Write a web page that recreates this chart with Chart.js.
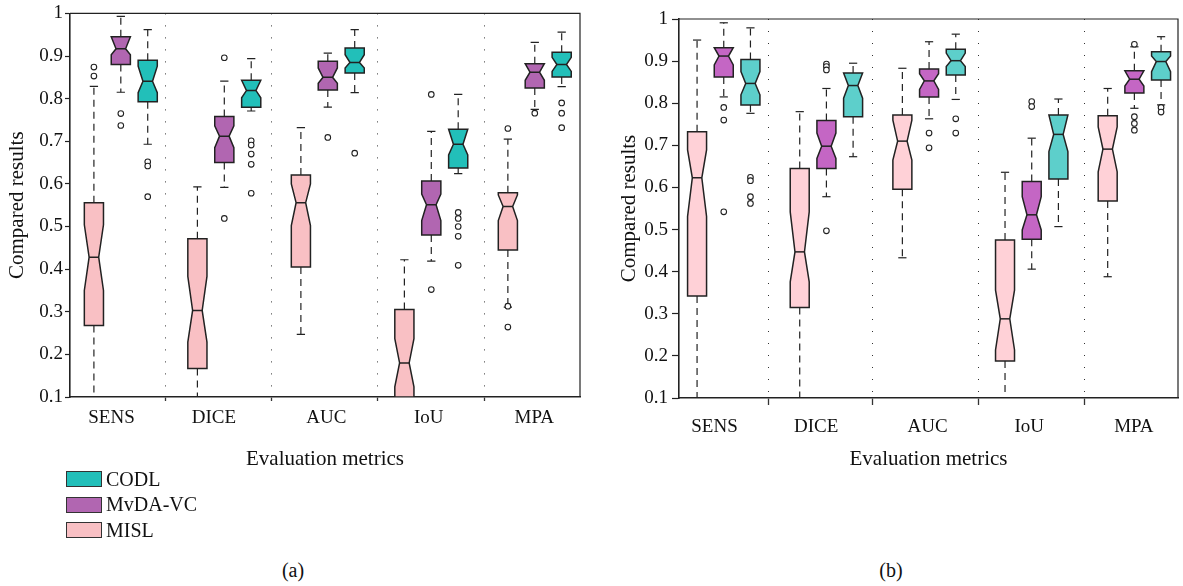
<!DOCTYPE html>
<html>
<head>
<meta charset="utf-8">
<title>Compared results</title>
<script src="https://cdn.jsdelivr.net/npm/chart.js@4.4.1/dist/chart.umd.min.js"></script>
<style>
  html, body { margin: 0; padding: 0; background: #fff; }
  body { width: 1183px; height: 586px; position: relative; overflow: hidden;
         font-family: 'Liberation Serif', 'DejaVu Serif', serif; color: #111; }
  canvas { position: absolute; top: 0; }
  #chartA { left: 0; }
  #chartB { left: 600px; }
  .legend-row { position: absolute; left: 66px; height: 16px; display: flex; align-items: center; font-size: 20px; }
  .swatch { box-sizing: border-box; width: 36px; height: 16px; border: 1.6px solid #333; margin-right: 4px; }
  .caption { position: absolute; top: 557px; width: 60px; text-align: center; font-size: 20px; line-height: 26px; }
</style>
</head>
<body>
<canvas id="chartA" width="600" height="480"></canvas>
<canvas id="chartB" width="583" height="480"></canvas>
<div id="legend"></div>
<div class="caption" style="left:263px">(a)</div>
<div class="caption" style="left:861px">(b)</div>
<script>
const metrics = ['SENS', 'DICE', 'AUC', 'IoU', 'MPA'];
const methods = ['MISL', 'MvDA-VC', 'CODL'];
const yTicks = [0.1, 0.2, 0.3, 0.4, 0.5, 0.6, 0.7, 0.8, 0.9, 1];

// one row per metric: [lower whisker, Q1, notch low, median, notch high, Q3, upper whisker]
// panel (a)
const mislA = [
    [0.100, 0.268, 0.350, 0.428, 0.504, 0.556, 0.829],
    [0.100, 0.167, 0.229, 0.303, 0.383, 0.471, 0.593],
    [0.247, 0.405, 0.502, 0.556, 0.600, 0.621, 0.732],
    [0.100, 0.100, 0.124, 0.180, 0.237, 0.305, 0.422],
    [0.311, 0.445, 0.514, 0.547, 0.574, 0.579, 0.705]
];
const mvdaA = [
    [0.815, 0.880, 0.903, 0.917, 0.945, 0.945, 0.993],
    [0.592, 0.650, 0.685, 0.712, 0.736, 0.758, 0.841],
    [0.780, 0.820, 0.836, 0.850, 0.872, 0.888, 0.907],
    [0.419, 0.480, 0.514, 0.551, 0.576, 0.607, 0.723],
    [0.775, 0.825, 0.843, 0.862, 0.882, 0.882, 0.932]
];
const codlA = [
    [0.693, 0.793, 0.814, 0.841, 0.876, 0.890, 0.962],
    [0.771, 0.780, 0.802, 0.819, 0.843, 0.843, 0.894],
    [0.814, 0.860, 0.872, 0.885, 0.903, 0.919, 0.962],
    [0.624, 0.637, 0.668, 0.693, 0.728, 0.728, 0.810],
    [0.828, 0.851, 0.864, 0.880, 0.897, 0.909, 0.956]
];
const mislAOut = [[0.874, 0.853], [], [], [], [0.730, 0.313, 0.264]];
const mvdaAOut = [[0.765, 0.737], [0.896, 0.519], [0.709], [0.810, 0.352], [0.766]];
const codlAOut = [[0.652, 0.642, 0.570], [0.701, 0.691, 0.670, 0.646, 0.578], [0.672],
                  [0.533, 0.519, 0.500, 0.477, 0.409], [0.790, 0.766, 0.732]];

// panel (b)
const mislB = [
    [0.100, 0.342, 0.531, 0.623, 0.689, 0.732, 0.950],
    [0.100, 0.315, 0.376, 0.447, 0.542, 0.645, 0.780],
    [0.433, 0.596, 0.665, 0.710, 0.760, 0.772, 0.883],
    [0.100, 0.188, 0.214, 0.288, 0.356, 0.475, 0.636],
    [0.388, 0.568, 0.637, 0.691, 0.744, 0.770, 0.835]
];
const mvdaB = [
    [0.815, 0.862, 0.891, 0.912, 0.932, 0.932, 0.991],
    [0.578, 0.645, 0.669, 0.698, 0.729, 0.759, 0.835],
    [0.763, 0.815, 0.833, 0.853, 0.870, 0.881, 0.946],
    [0.406, 0.477, 0.499, 0.535, 0.578, 0.614, 0.717],
    [0.788, 0.824, 0.841, 0.857, 0.877, 0.877, 0.934]
];
const codlB = [
    [0.776, 0.796, 0.820, 0.847, 0.875, 0.904, 0.979],
    [0.673, 0.768, 0.812, 0.842, 0.872, 0.872, 0.895],
    [0.809, 0.867, 0.887, 0.901, 0.919, 0.928, 0.964],
    [0.507, 0.620, 0.685, 0.726, 0.772, 0.772, 0.810],
    [0.796, 0.855, 0.875, 0.899, 0.912, 0.922, 0.958]
];
const mislBOut = [[], [], [], [], []];
const mvdaBOut = [[0.790, 0.760, 0.542], [0.893, 0.887, 0.879, 0.497], [0.729, 0.694], [0.804, 0.792],
                  [0.940, 0.768, 0.752, 0.736]];
const codlBOut = [[0.624, 0.616, 0.578, 0.562], [], [0.763, 0.729], [], [0.790, 0.779]];

const colorsA = ['#f9c0c4', '#b166b1', '#22bfb9'];
const colorsB = ['#ffd1d7', '#c466c4', '#5dcfcb'];

// x axis layout: where labels and dotted separators sit (in group units)
const labelAt = [-0.09, 0.90, 1.985, 2.975, 3.995];
const sepAt = [0.432, 1.452, 2.48, 3.51];
const boxOffsets = [-0.26, 0, 0.26];
const boxWidth = 0.185;
const capWidth = 0.08;

const serif = "'Liberation Serif', 'DejaVu Serif', serif";
const ink = '#222';

function line(ctx, x1, y1, x2, y2) {
    ctx.beginPath();
    ctx.moveTo(x1, y1);
    ctx.lineTo(x2, y2);
    ctx.stroke();
}

// draws the notched boxes and the frame, always through the chart's scales
const notchedBoxes = {
    id: 'notchedBoxes',
    beforeDatasetsDraw(chart, args, opts) {
        const {ctx, chartArea, scales: {x, y}} = chart;
        const half = (x.getPixelForValue(boxWidth) - x.getPixelForValue(0)) / 2;
        const cap = (x.getPixelForValue(capWidth) - x.getPixelForValue(0)) / 2;
        ctx.save();
        ctx.beginPath();
        ctx.rect(chartArea.left, chartArea.top, chartArea.width, chartArea.height);
        ctx.clip();
        opts.series.forEach((rows, gi) => {
            rows.forEach((row, mi) => {
                const cx = x.getPixelForValue(mi + boxOffsets[gi]);
                const [lo, q1, nLo, med, nHi, q3, hi] = row.map(v => y.getPixelForValue(v));
                const inner = half * 0.5;

                ctx.strokeStyle = ink;
                ctx.lineWidth = 1.2;
                ctx.setLineDash([7, 5]);
                line(ctx, cx, q3, cx, hi);
                line(ctx, cx, q1, cx, lo);
                ctx.setLineDash([]);
                line(ctx, cx - cap, hi, cx + cap, hi);
                line(ctx, cx - cap, lo, cx + cap, lo);

                ctx.beginPath();
                ctx.moveTo(cx - half, q3);
                ctx.lineTo(cx + half, q3);
                ctx.lineTo(cx + half, nHi);
                ctx.lineTo(cx + inner, med);
                ctx.lineTo(cx + half, nLo);
                ctx.lineTo(cx + half, q1);
                ctx.lineTo(cx - half, q1);
                ctx.lineTo(cx - half, nLo);
                ctx.lineTo(cx - inner, med);
                ctx.lineTo(cx - half, nHi);
                ctx.closePath();
                ctx.fillStyle = opts.colors[gi];
                ctx.fill();
                ctx.lineWidth = 1.5;
                ctx.stroke();
                line(ctx, cx - inner, med, cx + inner, med);
            });
        });
        ctx.restore();
    },
    afterDraw(chart) {
        const {ctx, chartArea} = chart;
        ctx.save();
        ctx.strokeStyle = ink;
        ctx.lineWidth = 1.2;
        ctx.beginPath();
        ctx.moveTo(chartArea.left, chartArea.top);
        ctx.lineTo(chartArea.right, chartArea.top);
        ctx.lineTo(chartArea.right, chartArea.bottom);
        ctx.stroke();
        ctx.restore();
    }
};

function makeChart(id, series, outliers, colors, look) {
    const datasets = methods.map((name, gi) => ({
        label: name,
        data: outliers[gi].flatMap((vals, mi) => vals.map(v => ({x: mi + boxOffsets[gi], y: v}))),
        pointRadius: 2.8,
        pointHoverRadius: 2.8,
        pointBorderWidth: 1.1,
        pointBorderColor: ink,
        pointBackgroundColor: '#fff'
    }));
    const isSep = v => sepAt.includes(v);
    const sepColor = c => (c.tick && isSep(c.tick.value)) ? '#333' : 'rgba(0,0,0,0)';

    return new Chart(document.getElementById(id), {
        type: 'scatter',
        data: {datasets},
        options: {
            responsive: false,
            animation: false,
            events: [],
            layout: {padding: look.padding},
            plugins: {
                legend: {display: false},
                tooltip: {enabled: false},
                notchedBoxes: {series, colors}
            },
            scales: {
                x: {
                    type: 'linear',
                    min: look.xMin,
                    max: look.xMax,
                    afterBuildTicks: s => {
                        s.ticks = labelAt.concat(sepAt).sort((a, b) => a - b).map(v => ({value: v}));
                    },
                    afterFit: s => { s.height = look.xAxisH; },
                    ticks: {
                        autoSkip: false,
                        maxRotation: 0,
                        padding: look.xPad,
                        color: '#111',
                        font: {family: serif, size: 19},
                        callback: v => {
                            const i = labelAt.indexOf(v);
                            return i >= 0 ? metrics[i] : '';
                        }
                    },
                    grid: {
                        color: sepColor,
                        tickColor: sepColor,
                        lineWidth: 1,
                        tickWidth: 1.3,
                        tickLength: look.xTick,
                        tickBorderDash: []
                    },
                    border: {display: true, color: ink, width: 1.6, dash: [1, 11]},
                    title: {
                        display: true,
                        text: 'Evaluation metrics',
                        color: '#111',
                        font: {family: serif, size: 21},
                        padding: {top: 0, bottom: 8}
                    }
                },
                y: {
                    type: 'linear',
                    min: 0.1,
                    max: 1,
                    afterBuildTicks: s => { s.ticks = yTicks.map(v => ({value: v})); },
                    afterFit: s => { s.width = look.yAxisW; },
                    ticks: {
                        padding: look.yPad,
                        color: '#111',
                        font: {family: serif, size: 19},
                        callback: v => String(Number(v.toFixed(1)))
                    },
                    grid: {drawOnChartArea: false, color: ink, tickLength: look.yTick, tickWidth: 1.2},
                    border: {display: true, color: ink, width: 1.6},
                    title: {
                        display: true,
                        text: 'Compared results',
                        color: '#111',
                        font: {family: serif, size: 21},
                        padding: {top: look.yTitlePad, bottom: 0}
                    }
                }
            }
        },
        plugins: [notchedBoxes]
    });
}

makeChart('chartA', [mislA, mvdaA, codlA], [mislAOut, mvdaAOut, codlAOut], colorsA, {
    padding: {left: 0, top: 12, right: 20, bottom: 0},
    xMin: -0.491, xMax: 4.437, xAxisH: 83, yAxisW: 70,
    xPad: 6, xTick: 4, yPad: 2, yTick: 5, yTitlePad: 5
});
makeChart('chartB', [mislB, mvdaB, codlB], [mislBOut, mvdaBOut, codlBOut], colorsB, {
    padding: {left: 0, top: 19, right: 5, bottom: 0},
    xMin: -0.436, xMax: 4.425, xAxisH: 82, yAxisW: 79,
    xPad: 11, xTick: 7, yPad: 4, yTick: 7, yTitlePad: 17
});

// legend under panel (a), topmost entry is CODL
const legend = document.getElementById('legend');
[2, 1, 0].forEach((gi, row) => {
    const div = document.createElement('div');
    div.className = 'legend-row';
    div.style.top = (471 + row * 25.5) + 'px';
    div.innerHTML = '<span class="swatch" style="background:' + colorsA[gi] + '"></span>' + methods[gi];
    legend.appendChild(div);
});
</script>
</body>
</html>
